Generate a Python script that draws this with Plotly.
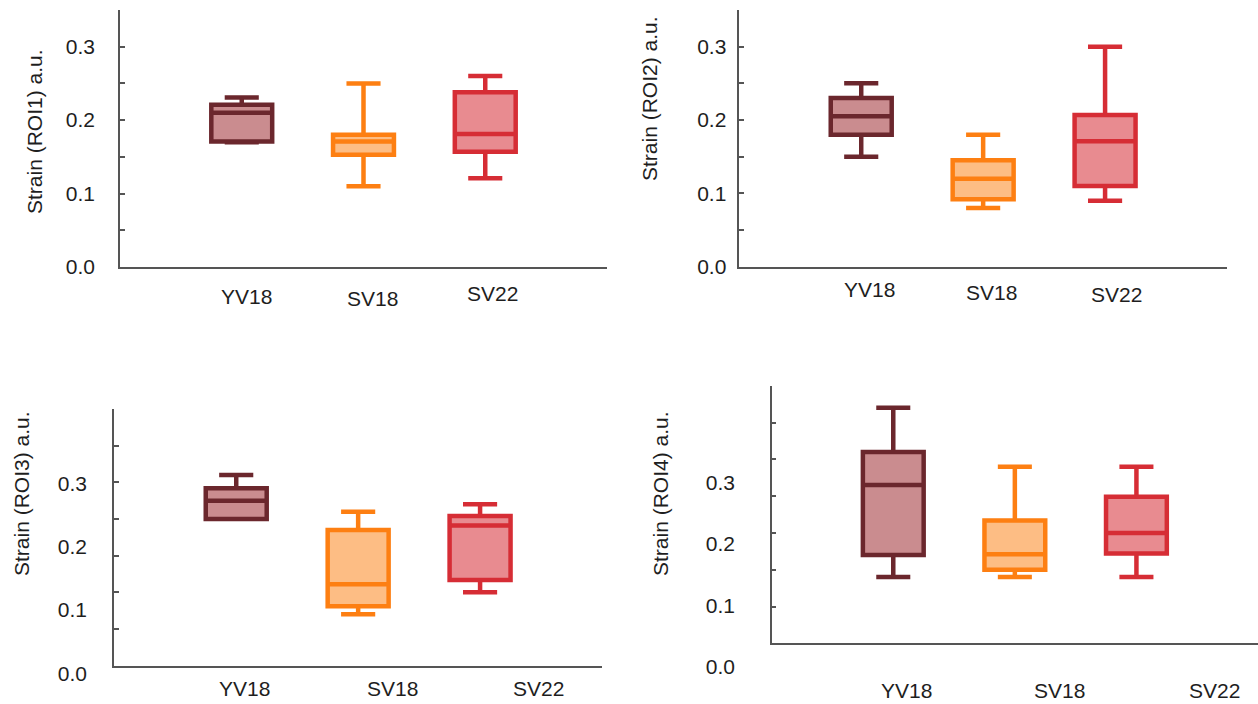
import plotly.graph_objects as go

# ---------------- data ----------------
categories = ["YV18", "SV18", "SV22"]

roi1_min = [0.170, 0.110, 0.121]
roi1_q1 = [0.171, 0.153, 0.157]
roi1_median = [0.210, 0.171, 0.181]
roi1_q3 = [0.221, 0.180, 0.238]
roi1_max = [0.231, 0.250, 0.260]

roi2_min = [0.150, 0.080, 0.090]
roi2_q1 = [0.180, 0.092, 0.110]
roi2_median = [0.205, 0.120, 0.171]
roi2_q3 = [0.230, 0.145, 0.207]
roi2_max = [0.250, 0.180, 0.300]

roi3_min = [0.200, 0.070, 0.100]
roi3_q1 = [0.200, 0.081, 0.117]
roi3_median = [0.225, 0.111, 0.191]
roi3_q3 = [0.242, 0.185, 0.204]
roi3_max = [0.260, 0.210, 0.220]

roi4_min = [0.090, 0.090, 0.090]
roi4_q1 = [0.120, 0.100, 0.122]
roi4_median = [0.215, 0.121, 0.150]
roi4_q3 = [0.260, 0.167, 0.199]
roi4_max = [0.320, 0.240, 0.240]

y_titles = ["Strain (ROI1) a.u.", "Strain (ROI2) a.u.", "Strain (ROI3) a.u.", "Strain (ROI4) a.u."]
y_tick_values = [0.0, 0.05, 0.10, 0.15, 0.20, 0.25, 0.30, 0.35]
y_label_values = [0.0, 0.1, 0.2, 0.3]
y_label_text = ["0.0", "0.1", "0.2", "0.3"]

# ---------------- style ----------------
W, H = 1258, 704
line_colors = ["#6b272d", "#fd7f12", "#d62d35"]
fill_colors = ["#ca8c8f", "#fdbd84", "#e88b90"]
axis_color = "#555555"
text_color = "#1e1e1e"
FONT = "Liberation Sans, Arial, Helvetica, sans-serif"


def px(x):
    return x / W


def py(y):
    return 1 - y / H


fig = go.Figure()

panels = [
    (roi1_min, roi1_q1, roi1_median, roi1_q3, roi1_max),
    (roi2_min, roi2_q1, roi2_median, roi2_q3, roi2_max),
    (roi3_min, roi3_q1, roi3_median, roi3_q3, roi3_max),
    (roi4_min, roi4_q1, roi4_median, roi4_q3, roi4_max),
]
axis_ids = [("x", "y"), ("x2", "y2"), ("x3", "y3"), ("x4", "y4")]

for (mn, q1, med, q3, mx), (xa, ya) in zip(panels, axis_ids):
    for i, cat in enumerate(categories):
        fig.add_trace(go.Box(
            x=[i], q1=[q1[i]], median=[med[i]], q3=[q3[i]],
            lowerfence=[mn[i]], upperfence=[mx[i]],
            name=cat, width=0.5, whiskerwidth=0.56,
            line=dict(color=line_colors[i], width=4.5),
            fillcolor=fill_colors[i], boxpoints=False,
            xaxis=xa, yaxis=ya, showlegend=False, hoverinfo="skip",
        ))

# invisible traces that carry the free-floating label axes of the lower panels
fig.add_trace(go.Scatter(x=[None], y=[None], xaxis="x3", yaxis="y5",
                         showlegend=False, hoverinfo="skip"))
fig.add_trace(go.Scatter(x=[None], y=[None], xaxis="x4", yaxis="y6",
                         showlegend=False, hoverinfo="skip"))

tickfont = dict(family=FONT, size=21, color=text_color)

# panel pixel boxes: (left, right, top, bottom)
boxes = [(120, 607, 10, 267), (739.3, 1227, 10, 266.7),
         (114.3, 602, 409, 665.7), (771.7, 1258, 385.7, 643.3)]
# where each category name sits, in the panel's x units (names are offset from the boxes)
x_label_pos = [[0.04, 1.07, 2.06], [0.07, 1.07, 2.09],
               [0.07, 1.28, 2.48], [0.11, 1.37, 2.64]]
x_label_y = [[296, 298, 293], [290, 292, 295], [688, 688, 688], [690, 690, 690]]
y_standoff = [19, 7]

layout = dict(
    width=W, height=H, margin=dict(l=0, r=0, t=0, b=0, autoexpand=False),
    paper_bgcolor="white", plot_bgcolor="rgba(0,0,0,0)",
    font=dict(family=FONT, color=text_color), showlegend=False,
)

annotations = []
for k, ((l, r, t, b), (xa, ya)) in enumerate(zip(boxes, axis_ids)):
    xkey = "xaxis" if xa == "x" else "xaxis" + xa[1:]
    ykey = "yaxis" if ya == "y" else "yaxis" + ya[1:]
    layout[xkey] = dict(
        type="linear", automargin=False,
        domain=[px(l), px(r) if r < W else 1.0], anchor=ya, range=[-1, 3],
        showline=True, linecolor=axis_color, linewidth=1.5,
        showgrid=False, zeroline=False, ticks="", showticklabels=False,
    )
    # category labels, placed in the panel's x data units
    for i, cat in enumerate(categories):
        annotations.append(dict(
            text=cat, x=x_label_pos[k][i], xref=xa,
            y=py(x_label_y[k][i]), yref="paper",
            showarrow=False, xanchor="center", yanchor="middle",
            font=tickfont,
        ))
    ytext = [("%.1f" % v) if (k < 2 and abs(v * 10 - round(v * 10)) < 1e-9) else "" for v in y_tick_values]
    yax = dict(
        type="linear", automargin=False,
        domain=[py(b), py(t)], anchor=xa, range=[0, 0.35],
        showline=True, linecolor=axis_color, linewidth=1.5,
        showgrid=False, zeroline=False,
        ticks="inside", ticklen=5, tickwidth=1.5, tickcolor=axis_color,
        tickmode="array", tickvals=y_tick_values, ticktext=ytext,
        tickfont=tickfont,
    )
    if k < 2:
        yax["ticklabelstandoff"] = y_standoff[k]
    layout[ykey] = yax

# label axes of the lower panels (their labels sit apart from the tick marks)
layout["yaxis5"] = dict(
    type="linear", automargin=False,
    anchor="free", position=px(87), domain=[py(695), py(395)],
    range=[(673.3 - 695) / 633, (673.3 - 395) / 633],
    showline=False, showgrid=False, zeroline=False, ticks="",
    tickmode="array", tickvals=y_label_values, ticktext=y_label_text, tickfont=tickfont,
)
layout["yaxis6"] = dict(
    type="linear", automargin=False,
    anchor="free", position=px(735), domain=[py(695), py(375)],
    range=[(666.7 - 695) / 614.7, (666.7 - 375) / 614.7],
    showline=False, showgrid=False, zeroline=False, ticks="",
    tickmode="array", tickvals=y_label_values, ticktext=y_label_text, tickfont=tickfont,
)

title_pos = [(34, 132), (649, 99), (21, 494), (660, 494)]
for tt, (x, y) in zip(y_titles, title_pos):
    annotations.append(dict(
        text=tt, x=px(x), y=py(y), xref="paper", yref="paper",
        textangle=-90, showarrow=False, xanchor="center", yanchor="middle",
        font=dict(family=FONT, size=21, color=text_color)))
layout["annotations"] = annotations

fig.update_layout(**layout)
fig.write_html("out.html", config={"displayModeBar": False},
               post_script="document.body.style.margin='0';")
